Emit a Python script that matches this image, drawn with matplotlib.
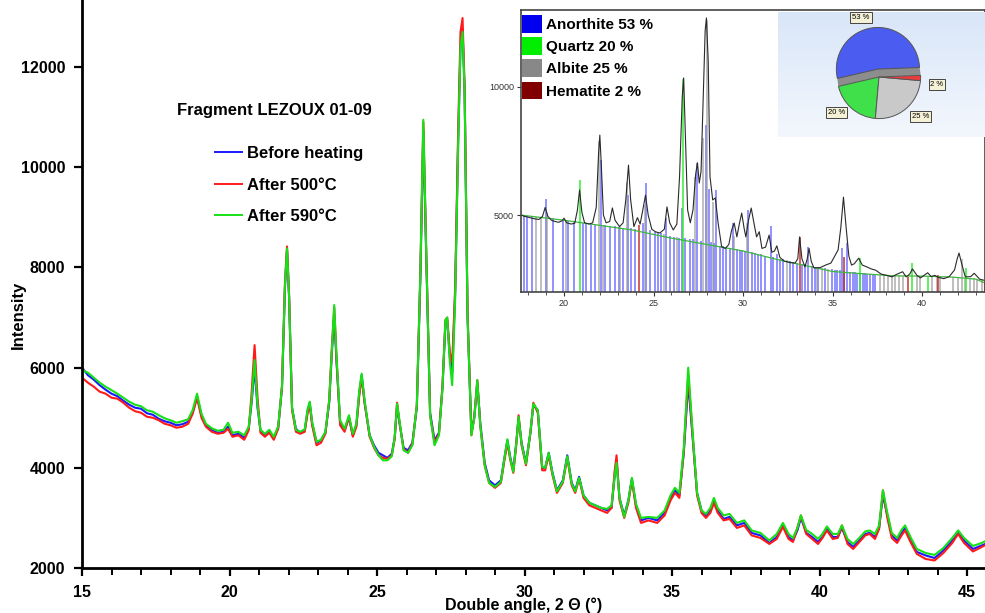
import numpy as np
import matplotlib
matplotlib.use('Agg')
from matplotlib import pyplot as plt
from matplotlib.lines import Line2D
from matplotlib.patches import Patch

plt.rcParams['font.family'] = ['Liberation Sans', 'DejaVu Sans']

# main diffractograms (2 theta, intensity)
two_theta = [
    15.0, 15.2, 15.4, 15.6, 15.8, 16.0, 16.2, 16.4, 16.6, 16.8,
    17.0, 17.2, 17.4, 17.6, 17.8, 18.0, 18.2, 18.4, 18.6, 18.75,
    18.9, 19.05, 19.2, 19.4, 19.6, 19.8, 19.95, 20.1, 20.3, 20.5,
    20.65, 20.75, 20.85, 20.95, 21.05, 21.2, 21.35, 21.5, 21.65, 21.78,
    21.88, 21.95, 22.02, 22.12, 22.25, 22.4, 22.55, 22.65, 22.72, 22.8,
    22.95, 23.1, 23.25, 23.38, 23.47, 23.55, 23.63, 23.75, 23.9, 24.05,
    24.18, 24.3, 24.4, 24.48, 24.58, 24.75, 24.9, 25.05, 25.2, 25.35,
    25.5, 25.6, 25.68, 25.76, 25.9, 26.05, 26.2, 26.35, 26.47, 26.57,
    26.67, 26.8, 26.95, 27.1, 27.22, 27.32, 27.38, 27.47, 27.55, 27.65,
    27.75, 27.83, 27.9, 27.97, 28.07, 28.2, 28.3, 28.4, 28.5, 28.65,
    28.8, 29.0, 29.2, 29.32, 29.42, 29.52, 29.62, 29.72, 29.8, 29.9,
    30.05, 30.2, 30.3, 30.45, 30.6, 30.7, 30.82, 30.95, 31.1, 31.3,
    31.45, 31.6, 31.72, 31.85, 32.0, 32.2, 32.4, 32.6, 32.8, 32.95,
    33.05, 33.12, 33.22, 33.38, 33.52, 33.64, 33.78, 33.95, 34.2, 34.5,
    34.75, 34.95, 35.1, 35.25, 35.4, 35.55, 35.7, 35.85, 36.0, 36.15,
    36.3, 36.42, 36.55, 36.75, 36.95, 37.2, 37.45, 37.7, 38.0, 38.3,
    38.55, 38.76, 38.95, 39.1, 39.25, 39.37, 39.55, 39.75, 39.95, 40.1,
    40.25, 40.45, 40.62, 40.76, 40.95, 41.14, 41.35, 41.55, 41.7, 41.88,
    42.02, 42.15, 42.3, 42.45, 42.63, 42.78, 42.9, 43.1, 43.3, 43.6,
    43.9, 44.2, 44.5, 44.7, 44.9, 45.2, 45.5, 45.7]

before = [
    6000, 5850, 5760, 5650, 5560, 5480, 5430, 5340, 5260, 5200,
    5180, 5090, 5060, 4980, 4930, 4900, 4850, 4870, 4920, 5100,
    5420, 5050, 4850, 4750, 4700, 4720, 4820, 4650, 4680, 4600,
    4780, 5300, 6000, 5200, 4750, 4650, 4720, 4580, 4800, 5600,
    7600, 8350, 7400, 5200, 4780, 4700, 4750, 5150, 5300, 4900,
    4500, 4550, 4700, 5300, 6300, 7050, 6100, 4900, 4750, 5000,
    4650, 4850, 5500, 5850, 5300, 4650, 4450, 4300, 4250, 4200,
    4280, 4600, 5250, 4900, 4400, 4350, 4500, 5200, 7800, 10750,
    8200, 5100, 4550, 4700, 5600, 6900, 6950, 6200, 5900, 7500,
    10500, 12400, 12750, 11500, 7000, 4700, 5000, 5700, 4900, 4100,
    3750, 3650, 3750, 4200, 4550, 4200, 3950, 4500, 5000, 4500,
    4100, 4700, 5250, 5150, 4000, 4000, 4300, 3900, 3550, 3750,
    4250, 3700, 3550, 3820, 3450, 3300, 3250, 3200, 3150, 3200,
    3800, 4150, 3400, 3050, 3350, 3780, 3250, 2950, 3000, 2950,
    3100, 3400, 3550, 3450, 4300, 5700, 4600, 3500, 3150, 3050,
    3150, 3350, 3150, 2980, 3020, 2850, 2900, 2700, 2650, 2500,
    2620, 2860, 2620, 2550, 2750, 3000, 2700, 2620, 2520, 2620,
    2780, 2620, 2620, 2800, 2520, 2420, 2550, 2680, 2700, 2620,
    2800, 3450, 3050, 2650, 2550, 2700, 2800, 2550, 2320, 2250,
    2200, 2350, 2550, 2700, 2550, 2380, 2450, 2500]

after500 = [
    5800, 5700, 5620, 5520, 5480, 5400, 5380, 5300, 5200, 5130,
    5100, 5020, 5000, 4950, 4880, 4850, 4800, 4820, 4880, 5080,
    5400, 5000, 4820, 4720, 4680, 4700, 4780, 4620, 4650, 4560,
    4750, 5500, 6450, 5400, 4700, 4620, 4700, 4560, 4780, 5650,
    7700, 8420, 7450, 5150, 4720, 4680, 4720, 5100, 5250, 4850,
    4450, 4500, 4680, 5350, 6400, 7200, 6150, 4850, 4720, 5020,
    4620, 4820, 5450, 5800, 5300, 4620, 4400, 4250, 4200, 4180,
    4250, 4580, 5300, 4920, 4380, 4300, 4480, 5250, 7900, 10900,
    8300, 5050, 4500, 4680, 5650, 6950, 7000, 6300, 6100, 7600,
    10700, 12700, 12980, 11600, 7100, 4650, 5050, 5750, 4850, 4050,
    3700, 3600, 3700, 4150, 4500, 4150, 3900, 4450, 5050, 4450,
    4050, 4700, 5300, 5100, 3950, 3950, 4250, 3850, 3500, 3700,
    4200, 3650, 3500, 3780, 3400, 3250, 3200, 3150, 3100, 3200,
    3900, 4250, 3350, 3000, 3300, 3750, 3200, 2900, 2950, 2900,
    3050, 3350, 3500, 3400, 4350, 5850, 4650, 3450, 3100, 3000,
    3100, 3300, 3100, 2950, 2980, 2800, 2850, 2650, 2600, 2480,
    2580, 2820, 2580, 2520, 2800, 3050, 2680, 2580, 2480, 2600,
    2750, 2580, 2600, 2850, 2480, 2380, 2520, 2650, 2680, 2580,
    2780, 3550, 3000, 2600, 2500, 2650, 2750, 2500, 2280, 2180,
    2150, 2300, 2500, 2680, 2500, 2330, 2420, 2480]

after590 = [
    5950, 5900, 5800, 5700, 5620, 5550, 5480, 5400, 5320, 5260,
    5230, 5150, 5120, 5050, 4990, 4950, 4900, 4930, 4970, 5150,
    5480, 5080, 4880, 4790, 4740, 4760, 4900, 4700, 4720, 4650,
    4820, 5350, 6150, 5250, 4760, 4680, 4760, 4620, 4830, 5620,
    7650, 8380, 7400, 5200, 4760, 4720, 4770, 5180, 5320, 4920,
    4520, 4560, 4720, 5350, 6350, 7250, 6200, 4950, 4780, 5050,
    4680, 4880, 5550, 5880, 5350, 4650, 4420, 4250, 4150, 4150,
    4230, 4620, 5280, 4950, 4350, 4300, 4450, 5250, 7900, 10950,
    8250, 5050, 4450, 4650, 5600, 6950, 7000, 6100, 5650, 7400,
    10400, 12400, 12700, 11500, 7000, 4650, 5000, 5750, 4850, 4050,
    3700, 3620, 3720, 4200, 4570, 4180, 3920, 4480, 5020, 4480,
    4080, 4720, 5280, 5150, 4020, 4000, 4300, 3880, 3530, 3730,
    4230, 3680, 3530, 3800, 3450, 3300, 3250, 3200, 3180, 3250,
    3800, 4100, 3400, 3020, 3350, 3800, 3280, 3000, 3020, 3000,
    3150, 3450, 3600, 3500, 4400, 6000, 4700, 3500, 3150, 3080,
    3200, 3400, 3200, 3050, 3080, 2900, 2950, 2750, 2700, 2550,
    2680, 2900, 2680, 2600, 2800, 3050, 2760, 2680, 2580, 2680,
    2830, 2680, 2680, 2850, 2580, 2480, 2600, 2730, 2750, 2680,
    2850, 3550, 3100, 2700, 2600, 2760, 2850, 2600, 2380, 2300,
    2260, 2400, 2600, 2750, 2600, 2440, 2500, 2560]

series_labels = ['Before heating', 'After 500°C', 'After 590°C']

# inset: measured pattern, fitted background and phase reflections
inset_tt = [
    17.6, 17.8, 18.0, 18.2, 18.4, 18.6, 18.8, 18.95, 19.1, 19.3,
    19.5, 19.7, 19.9, 20.0, 20.15, 20.4, 20.6, 20.75, 20.87, 21.0,
    21.15, 21.4, 21.6, 21.8, 21.93, 22.0, 22.08, 22.2, 22.35, 22.55,
    22.7, 22.85, 23.1, 23.3, 23.45, 23.6, 23.72, 23.9, 24.1, 24.25,
    24.4, 24.55, 24.7, 24.9, 25.1, 25.35, 25.6, 25.75, 25.9, 26.1,
    26.3, 26.45, 26.6, 26.68, 26.78, 26.9, 27.05, 27.2, 27.35, 27.45,
    27.55, 27.65, 27.78, 27.88, 27.95, 28.05, 28.15, 28.3, 28.45, 28.6,
    28.8, 29.0, 29.2, 29.35, 29.5, 29.65, 29.8, 29.92, 30.05, 30.15,
    30.3, 30.45, 30.6, 30.75, 30.9, 31.05, 31.25, 31.45, 31.6, 31.75,
    31.88, 32.05, 32.3, 32.6, 32.9, 33.05, 33.15, 33.28, 33.45, 33.58,
    33.68, 33.8, 33.95, 34.3, 34.6, 34.9, 35.15, 35.3, 35.45, 35.6,
    35.75, 35.9, 36.05, 36.2, 36.45, 36.65, 36.9, 37.15, 37.4, 37.7,
    38.0, 38.3, 38.6, 38.9, 39.1, 39.3, 39.45, 39.7, 39.9, 40.1,
    40.3, 40.5, 40.7, 40.9, 41.2, 41.5, 41.8, 41.95, 42.05, 42.2,
    42.4, 42.7, 42.9, 43.2, 43.5]
inset_counts = [
    5000, 4950, 4920, 4880, 4850, 4830, 4950, 5300, 4950, 4800,
    4750, 4720, 4780, 4880, 4700, 4650, 4680, 5200, 5980, 5100,
    4700, 4650, 4700, 5300, 7400, 8120, 7000, 5000, 4700, 4750,
    5280, 4800, 4550, 4700, 5600, 6950, 5600, 4550, 4900, 4650,
    5200, 5780, 5000, 4450, 4350, 4300, 4450, 5320, 4700, 4420,
    4650, 6500, 9600, 10350, 8000, 5200, 4700, 5200, 6600, 7040,
    6250, 6700, 9800, 12200, 12690, 11000, 6500, 5590, 5670, 4700,
    3760, 3700, 3850, 4400, 4690, 4150, 4700, 5080, 4500, 4150,
    4800, 5275, 4700, 4150, 4350, 3700, 3750, 4220, 3550, 3600,
    3800, 3350, 3200, 3150, 3130, 3300, 4150, 3300, 2980, 3300,
    3700, 3200, 2940, 2950, 3050, 3130, 3450, 3640, 4500, 5700,
    4500, 3400, 3050, 3100, 3320, 3050, 2980, 2900, 2850, 2700,
    2650, 2590, 2700, 2790, 2590, 2700, 2900, 2650, 2550, 2650,
    2750, 2600, 2650, 2570, 2520, 2600, 2860, 3300, 3520, 3100,
    2590, 2600, 2730, 2500, 2450]

bg_tt = [17.6, 20.0, 22.0, 23.8, 26.0, 28.0, 30.0, 32.0, 34.0, 35.0,
         36.5, 38.4, 40.0, 41.7, 43.0, 43.5]
bg_counts = [5000, 4800, 4600, 4420, 4100, 3850, 3600, 3250, 2950, 2800,
             2720, 2630, 2620, 2580, 2500, 2350]

anorthite_tt = [
    17.77, 17.95, 18.21, 19.0, 19.39, 19.95, 20.23, 20.56, 21.06, 21.25,
    21.49, 21.71, 22.05, 22.27, 22.55, 22.83, 23.05, 23.3, 23.58, 23.76,
    23.98, 24.41, 24.6, 24.79, 25.07, 25.25, 25.44, 25.72, 25.9, 26.15,
    26.41, 26.56, 26.78, 27.02, 27.21, 27.45, 27.67, 27.95, 28.08, 28.23,
    28.38, 28.51, 28.7, 28.88, 29.07, 29.26, 29.44, 29.63, 29.81, 29.91,
    30.1, 30.29, 30.47, 30.66, 30.84, 30.97, 31.22, 31.53, 31.68, 31.87,
    32.05, 32.2, 32.61, 32.8, 33.02, 33.27, 33.45, 33.64, 33.82, 34.01,
    34.2, 34.57, 34.94, 35.13, 35.26, 35.41, 35.5, 35.63, 35.82, 35.97,
    36.11, 36.24, 36.37, 36.52, 36.67, 36.8, 36.93, 37.08, 37.23, 37.36]
anorthite_top = [
    5000, 4980, 4950, 5630, 4880, 4820, 4780, 4760, 4700, 4680,
    4660, 4640, 7150, 4600, 4580, 4560, 4540, 4510, 5780, 4480,
    4450, 4700, 6250, 4400, 4350, 4330, 4300, 4900, 4200, 4150,
    4120, 5280, 4100, 4050, 4050, 7030, 4000, 8510, 6000, 3950,
    3900, 5980, 3800, 3780, 3760, 3730, 4690, 3680, 3650, 3640,
    3600, 5200, 3560, 3520, 3480, 3470, 3420, 4570, 3360, 3500,
    3300, 3270, 3200, 3170, 3140, 3100, 3080, 3750, 3020, 2990,
    2960, 2920, 2880, 2860, 2850, 2840, 3720, 2820, 3900, 2790,
    2780, 2770, 2760, 2750, 2740, 2730, 2720, 2710, 2700, 2700]

albite_tt = [
    18.45, 18.7, 19.05, 20.1, 21.95, 22.15, 23.15, 23.5, 24.5, 25.6,
    26.3, 27.3, 27.75, 27.97, 28.3, 29.5, 30.2, 32.43, 34.1, 34.38,
    34.75, 37.64, 37.86, 38.11, 38.29, 38.48, 38.72, 38.95, 39.69, 39.88,
    40.53, 40.81, 41.0, 41.74, 42.02, 42.2, 42.39, 42.67, 42.86, 43.08,
    43.32]
albite_top = [
    4930, 4900, 5100, 4780, 7900, 4620, 4530, 6300, 5400, 4250,
    4140, 6500, 8000, 12600, 5500, 4200, 4700, 3230, 2980, 2940,
    2900, 2680, 2670, 2660, 2650, 2650, 2650, 2640, 2630, 2630,
    2620, 2610, 2610, 2580, 2570, 3300, 2560, 2550, 2540, 2520,
    2450]

quartz_tt = [20.88, 26.66, 36.5, 39.42, 40.3, 42.45]
quartz_top = [6370, 10300, 3330, 3130, 2590, 2940]

hematite_tt = [24.17, 33.15, 35.65, 39.22, 40.9, 43.48]
hematite_top = [4610, 4150, 3370, 2590, 2660, 2400]

phases = ['Anorthite', 'Quartz', 'Albite', 'Hematite']
phase_pct = [53, 20, 25, 2]

W, H = 985, 613
fig = plt.figure(figsize=(W / 100, H / 100), dpi=100)

# ---------- main plot ----------
ax = fig.add_axes([82 / W, 1 - 568 / H, (W - 82) / W, 568 / H])
ax.plot(two_theta, before, color='#1a1aff', lw=1.5)
ax.plot(two_theta, after500, color='#ff1a1a', lw=1.5)
ax.plot(two_theta, after590, color='#16e016', lw=1.5)
ax.set_xlim(15, 45.61)
ax.set_ylim(2000, 13340)
ax.set_xticks(range(15, 46, 5))
ax.set_xticks(range(15, 46), minor=True)
ax.set_yticks(range(2000, 13000, 2000))
for s in ['top', 'right']:
    ax.spines[s].set_visible(False)
for s in ['left', 'bottom']:
    ax.spines[s].set_linewidth(2)
ax.tick_params(which='major', length=6, width=1.6, labelsize=11.5, pad=6)
ax.tick_params(which='minor', length=5, width=1.4)
for lab in ax.get_xticklabels() + ax.get_yticklabels():
    lab.set_fontweight('bold')

fig.text(524 / W, 1 - 605 / H, 'Double angle, 2 Θ (°)', ha='center', va='center',
         fontsize=11.5, fontweight='bold')
fig.text(18 / W, 1 - 315 / H, 'Intensity', rotation=90, ha='center', va='center',
         fontsize=12, fontweight='bold')
fig.text(274 / W, 1 - 110 / H, 'Fragment LEZOUX 01-09', ha='center', va='center',
         fontsize=12, fontweight='bold')

handles = [Line2D([], [], color=c, lw=1.4) for c in ['#1a1aff', '#ff1a1a', '#16e016']]
ax.legend(handles, series_labels, loc='upper left', frameon=False,
          bbox_to_anchor=(215 / W, 1 - 146 / H), bbox_transform=fig.transFigure,
          prop={'weight': 'bold', 'size': 12}, handlelength=1.6, handletextpad=0.3,
          labelspacing=1.0, borderpad=0, borderaxespad=0)

# ---------- inset ----------
ins = fig.add_axes([521 / W, 1 - 292 / H, (W - 521) / W, 282 / H])
ins.vlines(anorthite_tt, 2000, anorthite_top, colors='#3a3aff', lw=1.1, alpha=0.7)
ins.vlines(albite_tt, 2000, albite_top, colors='#9a9a9a', lw=1.1, alpha=0.8)
ins.vlines(quartz_tt, 2000, quartz_top, colors='#33ee33', lw=1.1)
ins.vlines(hematite_tt, 2000, hematite_top, colors='#c02020', lw=1.2, alpha=0.85)
ins.plot(bg_tt, bg_counts, color='#3cb83c', lw=0.9)
ins.plot(inset_tt, inset_counts, color='#2a2a2a', lw=0.8)
ins.set_xlim(17.6, 43.5)
ins.set_ylim(2000, 13000)
ins.set_xticks([20, 25, 30, 35, 40])
ins.set_xticks(range(18, 44), minor=True)
ins.set_yticks([5000, 10000])
ins.tick_params(which='major', length=3, width=0.8, labelsize=6.5, colors='#333333', pad=2)
ins.tick_params(which='minor', length=2, width=0.6, colors='#333333')
for s in ins.spines.values():
    s.set_color('#444444')
    s.set_linewidth(1.2)

phase_colors = ['#0000ee', '#00ee00', '#888888', '#800000']
ins.legend([Patch(facecolor=c, edgecolor='none') for c in phase_colors],
           ['%s %d %%' % (p, v) for p, v in zip(phases, phase_pct)],
           loc='upper left', frameon=False, bbox_to_anchor=(522 / W, 1 - 15 / H),
           bbox_transform=fig.transFigure, prop={'weight': 'bold', 'size': 11},
           handlelength=1.3, handleheight=1.4, handletextpad=0.3,
           labelspacing=0.3, borderpad=0, borderaxespad=0)

# pie panel with light gradient
panel = fig.add_axes([778 / W, 1 - 137 / H, (W - 778) / W, 125 / H])
grad = np.linspace(0, 1, 50).reshape(-1, 1)
panel.imshow(grad, aspect='auto', cmap=matplotlib.colors.LinearSegmentedColormap.from_list(
    'pan', ['#d9e6f8', '#f3f7fd']), extent=(0, 1, 0, 1))
panel.set_axis_off()

pax = fig.add_axes([(879 - 76) / W, 1 - (77 + 76) / H, 152 / W, 152 / H])
pax.patch.set_visible(False)
pie_colors = ['#4b5cf0', '#3fe04a', '#c9c9c9', '#ee3a3a']
# thickness of the lifted slice
pax.pie(phase_pct, colors=['#8d8d8d', 'none', 'none', 'none'], startangle=2.2,
        radius=1.04, wedgeprops=dict(edgecolor='none'))
pax.pie(phase_pct, colors=pie_colors, startangle=2.2, explode=[0.2, 0, 0, 0],
        radius=1.04, wedgeprops=dict(edgecolor='#555555', linewidth=0.7))
pax.set_xlim(-1.9, 1.9)
pax.set_ylim(-1.9, 1.9)
box = dict(boxstyle='square,pad=0.25', fc='#f4f1d6', ec='#444444', lw=0.7)
label_pos = [(-0.45, 1.48), (-1.07, -0.88), (1.03, -0.98), (1.45, -0.18)]
for v, (lx, ly) in zip(phase_pct, label_pos):
    pax.text(lx, ly, '%d %%' % v, ha='center', va='center', fontsize=5.5, bbox=box)

fig.savefig('out.png', dpi=100)
